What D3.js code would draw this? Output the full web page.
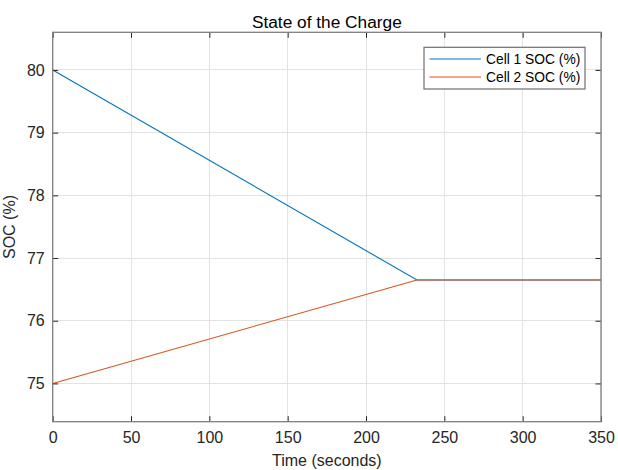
<!DOCTYPE html>
<html>
<head>
<meta charset="utf-8">
<script src="https://cdn.jsdelivr.net/npm/d3@7"></script>
<style>
  html, body { margin: 0; padding: 0; background: #ffffff; }
  svg { display: block; font-family: "Liberation Sans", Arial, Helvetica, sans-serif; }
</style>
</head>
<body>
<svg id="chart" width="618" height="470"></svg>
<script>
// ---- data ----
const timeSeconds = [0, 232.5, 350];
const cell1SOC = [80, 76.65, 76.65];
const cell2SOC = [75, 76.65, 76.65];
const seriesNames = ["Cell 1 SOC (%)", "Cell 2 SOC (%)"];
const xTicks = [0, 50, 100, 150, 200, 250, 300, 350];
const yTicks = [75, 76, 77, 78, 79, 80];
const titleText = "State of the Charge";
const xLabelText = "Time (seconds)";
const yLabelText = "SOC (%)";

// ---- layout ----
const W = 618, H = 470;
const plot = { left: 52.7, right: 601, top: 32.3, bottom: 421.7 };
const colors = ["#0072BD", "#D95319"];

const svg = d3.select("#chart");
svg.append("rect").attr("width", W).attr("height", H).attr("fill", "#ffffff");

const x = d3.scaleLinear().domain([0, 350]).range([plot.left, plot.right]);
const y = d3.scaleLinear().domain([74.39, 80.6]).range([plot.bottom, plot.top]);

// grid
const grid = svg.append("g");
grid.selectAll("line.gx").data(xTicks).join("line")
  .attr("x1", d => x(d)).attr("x2", d => x(d))
  .attr("y1", plot.top).attr("y2", plot.bottom)
  .attr("stroke", "#e3e3e3").attr("stroke-width", 1).attr("shape-rendering", "crispEdges");
grid.selectAll("line.gy").data(yTicks).join("line")
  .attr("x1", plot.left).attr("x2", plot.right)
  .attr("y1", d => y(d)).attr("y2", d => y(d))
  .attr("stroke", "#e3e3e3").attr("stroke-width", 1).attr("shape-rendering", "crispEdges");

// lines
const series = [cell1SOC, cell2SOC];
const line = d3.line().x((d, i) => x(timeSeconds[i])).y(d => y(d));
series.forEach((s, k) => {
  svg.append("path").datum(s)
    .attr("d", line)
    .attr("fill", "none")
    .attr("stroke", colors[k])
    .attr("stroke-width", 1.1);
});

// axes (ticks inward, box)
const tickLen = 5.5;
const axB = d3.axisBottom(x).tickValues(xTicks).tickSize(-tickLen).tickPadding(10).tickFormat(d3.format("d"));
const axT = d3.axisTop(x).tickValues(xTicks).tickSize(-tickLen).tickFormat("");
const axL = d3.axisLeft(y).tickValues(yTicks).tickSize(-tickLen).tickPadding(8).tickFormat(d3.format("d"));
const axR = d3.axisRight(y).tickValues(yTicks).tickSize(-tickLen).tickFormat("");

function styleAxis(g) {
  g.select(".domain").remove();
  g.selectAll(".tick line").attr("stroke", "#262626").attr("stroke-width", 1);
  g.selectAll(".tick text").attr("fill", "#262626").attr("font-size", 16)
    .attr("font-family", "Liberation Sans, Arial, sans-serif");
}
svg.append("g").attr("transform", `translate(0,${plot.bottom})`).call(axB).call(styleAxis)
  .selectAll(".tick text").attr("dy", "0.71em");
svg.append("g").attr("transform", `translate(0,${plot.top})`).call(axT).call(styleAxis);
svg.append("g").attr("transform", `translate(${plot.left},0)`).call(axL).call(styleAxis);
svg.append("g").attr("transform", `translate(${plot.right},0)`).call(axR).call(styleAxis);

// box
svg.append("rect")
  .attr("x", plot.left).attr("y", plot.top)
  .attr("width", plot.right - plot.left).attr("height", plot.bottom - plot.top)
  .attr("fill", "none").attr("stroke", "#7f7f7f").attr("stroke-width", 1.3);

// title
svg.append("text").attr("x", (plot.left + plot.right) / 2).attr("y", 28)
  .attr("text-anchor", "middle").attr("font-size", 17.3).attr("fill", "#000")
  .text(titleText);

// x label
svg.append("text").attr("x", (plot.left + plot.right) / 2).attr("y", 465.5)
  .attr("text-anchor", "middle").attr("font-size", 16).attr("fill", "#262626")
  .text(xLabelText);

// y label
svg.append("text")
  .attr("transform", `translate(14.5,${(plot.top + plot.bottom) / 2}) rotate(-90)`)
  .attr("text-anchor", "middle").attr("font-size", 16).attr("fill", "#262626")
  .text(yLabelText);

// legend
const lg = svg.append("g");
lg.append("rect").attr("x", 424).attr("y", 47.3).attr("width", 161).attr("height", 41.7)
  .attr("fill", "#ffffff").attr("stroke", "#6e6e6e").attr("stroke-width", 1.2);
seriesNames.forEach((name, k) => {
  const ly = 59 + k * 18;
  lg.append("line").attr("x1", 429.5).attr("x2", 481).attr("y1", ly).attr("y2", ly)
    .attr("stroke", colors[k]).attr("stroke-width", 1.2);
  lg.append("text").attr("x", 486).attr("y", ly).attr("dy", "0.36em")
    .attr("font-size", 13.8).attr("fill", "#000").text(name);
});
</script>
</body>
</html>
